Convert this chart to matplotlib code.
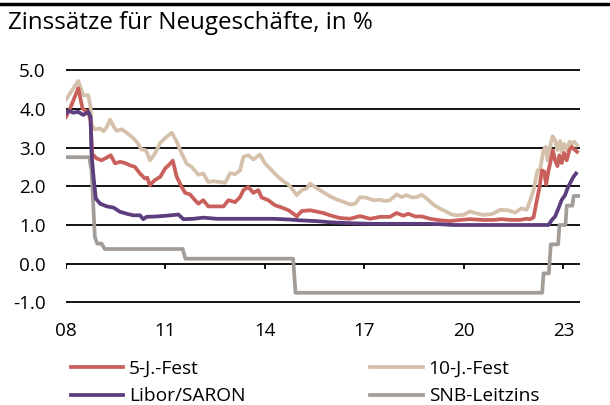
import matplotlib
matplotlib.use('Agg')
import matplotlib.pyplot as plt
from matplotlib.lines import Line2D

plt.rcParams['font.family'] = ['Open Sans', 'DejaVu Sans']

# 10-J.-Fest
fest10_x = [2008.00, 2008.37, 2008.52, 2008.67, 2008.74, 2008.77, 2008.87, 2009.03, 2009.13, 2009.23,
            2009.33, 2009.43, 2009.53, 2009.68, 2009.83, 2009.98, 2010.13, 2010.28, 2010.41, 2010.53,
            2010.68, 2010.84, 2011.04, 2011.19, 2011.34, 2011.49, 2011.64, 2011.79, 2011.99, 2012.14,
            2012.29, 2012.44, 2012.64, 2012.80, 2012.95, 2013.10, 2013.25, 2013.35, 2013.50, 2013.65,
            2013.85, 2014.00, 2014.15, 2014.35, 2014.51, 2014.71, 2014.81, 2014.96, 2015.11, 2015.26,
            2015.36, 2015.51, 2015.66, 2015.96, 2016.16, 2016.36, 2016.56, 2016.72, 2016.87, 2017.07,
            2017.27, 2017.47, 2017.62, 2017.77, 2017.97, 2018.12, 2018.27, 2018.43, 2018.58, 2018.73,
            2018.88, 2019.08, 2019.28, 2019.48, 2019.63, 2019.78, 2019.98, 2020.18, 2020.38, 2020.59,
            2020.84, 2021.09, 2021.34, 2021.54, 2021.74, 2021.89, 2022.00, 2022.10, 2022.22, 2022.30,
            2022.40, 2022.47, 2022.52, 2022.60, 2022.67, 2022.75, 2022.82, 2022.90, 2022.95, 2023.02,
            2023.10, 2023.18, 2023.25, 2023.33, 2023.41]
fest10_y = [4.24, 4.72, 4.35, 4.35, 4.05, 3.58, 3.47, 3.49, 3.42, 3.53,
            3.72, 3.55, 3.43, 3.47, 3.38, 3.28, 3.15, 2.95, 2.93, 2.67,
            2.84, 3.12, 3.28, 3.38, 3.15, 2.84, 2.58, 2.50, 2.30, 2.33,
            2.11, 2.13, 2.11, 2.09, 2.34, 2.31, 2.41, 2.76, 2.80, 2.69,
            2.82, 2.59, 2.46, 2.28, 2.16, 2.04, 1.94, 1.77, 1.90, 1.94,
            2.07, 1.98, 1.90, 1.74, 1.66, 1.60, 1.53, 1.55, 1.72, 1.70,
            1.64, 1.65, 1.62, 1.64, 1.79, 1.72, 1.77, 1.71, 1.72, 1.78,
            1.68, 1.53, 1.42, 1.34, 1.27, 1.25, 1.26, 1.35, 1.30, 1.26,
            1.28, 1.39, 1.38, 1.32, 1.43, 1.39, 1.64, 1.90, 2.41, 2.45,
            2.93, 3.02, 2.67, 3.02, 3.29, 3.19, 2.93, 3.17, 2.89, 3.10,
            2.93, 3.15, 3.10, 3.15, 3.06]

# 5-J.-Fest
fest5_x = [2008.00, 2008.12, 2008.37, 2008.50, 2008.57, 2008.67, 2008.74, 2008.79, 2008.92, 2009.07,
           2009.23, 2009.35, 2009.48, 2009.63, 2009.78, 2009.93, 2010.08, 2010.23, 2010.38, 2010.45,
           2010.53, 2010.68, 2010.84, 2010.99, 2011.09, 2011.22, 2011.34, 2011.49, 2011.59, 2011.74,
           2011.89, 2011.99, 2012.14, 2012.29, 2012.75, 2012.90, 2013.10, 2013.25, 2013.35, 2013.50,
           2013.65, 2013.80, 2013.90, 2014.10, 2014.30, 2014.51, 2014.71, 2014.86, 2014.96, 2015.11,
           2015.36, 2015.76, 2015.96, 2016.26, 2016.56, 2016.87, 2017.17, 2017.47, 2017.77, 2017.97,
           2018.17, 2018.32, 2018.53, 2018.73, 2018.98, 2019.28, 2019.58, 2019.88, 2020.18, 2020.59,
           2020.89, 2021.14, 2021.39, 2021.69, 2021.89, 2022.00, 2022.10, 2022.20, 2022.28, 2022.35,
           2022.42, 2022.48, 2022.55, 2022.60, 2022.68, 2022.75, 2022.82, 2022.88, 2022.95, 2023.02,
           2023.10, 2023.18, 2023.25, 2023.33, 2023.41]
fest5_y = [3.79, 4.00, 4.53, 4.00, 3.96, 3.92, 3.70, 2.84, 2.72, 2.67,
           2.74, 2.80, 2.59, 2.63, 2.60, 2.54, 2.50, 2.33, 2.20, 2.22,
           2.03, 2.16, 2.24, 2.46, 2.54, 2.66, 2.24, 1.98, 1.83, 1.79,
           1.64, 1.55, 1.64, 1.48, 1.48, 1.64, 1.59, 1.72, 1.90, 1.98,
           1.83, 1.90, 1.71, 1.64, 1.51, 1.45, 1.38, 1.29, 1.22, 1.36,
           1.38, 1.31, 1.25, 1.18, 1.16, 1.23, 1.16, 1.21, 1.21, 1.31,
           1.24, 1.29, 1.22, 1.22, 1.16, 1.12, 1.10, 1.13, 1.15, 1.13,
           1.13, 1.15, 1.13, 1.13, 1.16, 1.15, 1.20, 1.64, 1.98, 2.41,
           2.38, 2.05, 2.41, 2.59, 2.93, 2.67, 2.52, 2.80, 2.60, 2.86,
           2.67, 2.93, 3.02, 2.95, 2.89]

# Libor/SARON
libor_x = [2008.00, 2008.07, 2008.22, 2008.37, 2008.52, 2008.67, 2008.74, 2008.77, 2008.83, 2008.90,
           2009.03, 2009.23, 2009.43, 2009.63, 2009.83, 2010.03, 2010.23, 2010.33, 2010.43, 2010.73,
           2011.04, 2011.39, 2011.54, 2011.84, 2012.14, 2012.54, 2013.25, 2014.25, 2014.76, 2015.06,
           2015.56, 2015.96, 2016.46, 2017.17, 2018.17, 2018.88, 2019.28, 2019.68, 2020.50, 2021.50,
           2022.55, 2022.65, 2022.75, 2022.85, 2022.95, 2023.05, 2023.12, 2023.22, 2023.30, 2023.38]
libor_y = [3.88, 3.95, 3.90, 3.92, 3.84, 3.92, 3.79, 2.84, 2.24, 1.68,
           1.55, 1.48, 1.45, 1.34, 1.29, 1.25, 1.25, 1.15, 1.21, 1.22,
           1.24, 1.27, 1.15, 1.16, 1.19, 1.16, 1.16, 1.16, 1.14, 1.12,
           1.10, 1.07, 1.05, 1.03, 1.03, 1.03, 1.02, 1.00, 1.00, 1.00,
           1.00, 1.13, 1.22, 1.43, 1.65, 1.77, 1.94, 2.11, 2.24, 2.33]

# SNB-Leitzins
snb_x = [2008.00, 2008.70, 2008.77, 2008.82, 2008.87, 2008.94, 2009.07, 2009.17, 2011.52, 2011.60,
         2014.85, 2014.92, 2022.36, 2022.40, 2022.56, 2022.62, 2022.84, 2022.88, 2023.06, 2023.10,
         2023.27, 2023.31, 2023.45]
snb_y = [2.75, 2.75, 2.41, 1.55, 0.69, 0.52, 0.52, 0.38, 0.38, 0.13,
         0.13, -0.75, -0.75, -0.25, -0.25, 0.50, 0.50, 1.00, 1.00, 1.50,
         1.50, 1.75, 1.75]

year_ticks = [2008, 2011, 2014, 2017, 2020, 2023]
year_labels = ['08', '11', '14', '17', '20', '23']
y_ticks = [-1.0, 0.0, 1.0, 2.0, 3.0, 4.0, 5.0]

c_fest5 = '#c9605b'
c_fest10 = '#d5c1ab'
c_libor = '#5c3d7d'
c_snb = '#a39d99'

W, H = 610, 405
fig = plt.figure(figsize=(W / 100, H / 100), dpi=100)
ax = fig.add_axes([66 / W, 1 - 304.4 / H, (580 - 66) / W, (304.4 - 68.1) / H])

lw = 2.7
ax.plot(fest5_x, fest5_y, color=c_fest5, lw=lw, label='5-J.-Fest', zorder=4, solid_joinstyle='round')
ax.plot(libor_x, libor_y, color=c_libor, lw=lw, label='Libor/SARON', zorder=5, solid_joinstyle='round')
ax.plot(fest10_x, fest10_y, color=c_fest10, lw=lw, label='10-J.-Fest', zorder=3, solid_joinstyle='round')
ax.plot(snb_x, snb_y, color=c_snb, lw=lw, label='SNB-Leitzins', zorder=2, solid_joinstyle='round')

ax.set_xlim(2008.0, 2023.5)
ax.set_ylim(-1.05, 5.05)
ax.set_yticks(y_ticks)
ax.set_yticklabels(['%.1f' % v for v in y_ticks])
ax.set_xticks(year_ticks)
ax.set_xticklabels(year_labels)
ax.tick_params(axis='both', length=0, labelsize=13.6, colors='black')
ax.tick_params(axis='y', pad=14.5)
ax.tick_params(axis='x', pad=13)
ax.grid(axis='y', color='black', lw=1.3, zorder=1)
for s in ax.spines.values():
    s.set_visible(False)

# small tick marks on the zero line
ax.vlines(year_ticks, -0.14, 0, color='black', lw=1.3, zorder=1)

# top rule and title
fig.add_artist(Line2D([0, 1], [1 - 4 / H, 1 - 4 / H], color='black', lw=2.5))
fig.text(8 / W, 1 - 23 / H, 'Zinssätze für Neugeschäfte, in %', fontsize=17.4, va='center', ha='left')

handles, labels = ax.get_legend_handles_labels()
fig.legend(handles, labels, ncol=2, loc='upper left', bbox_to_anchor=(63 / W, 1 - 352 / H),
           frameon=False, fontsize=13.8, handlelength=2.75, handletextpad=0.3,
           columnspacing=6.5, labelspacing=0.5, borderaxespad=0)

fig.savefig('out.png', dpi=100)
